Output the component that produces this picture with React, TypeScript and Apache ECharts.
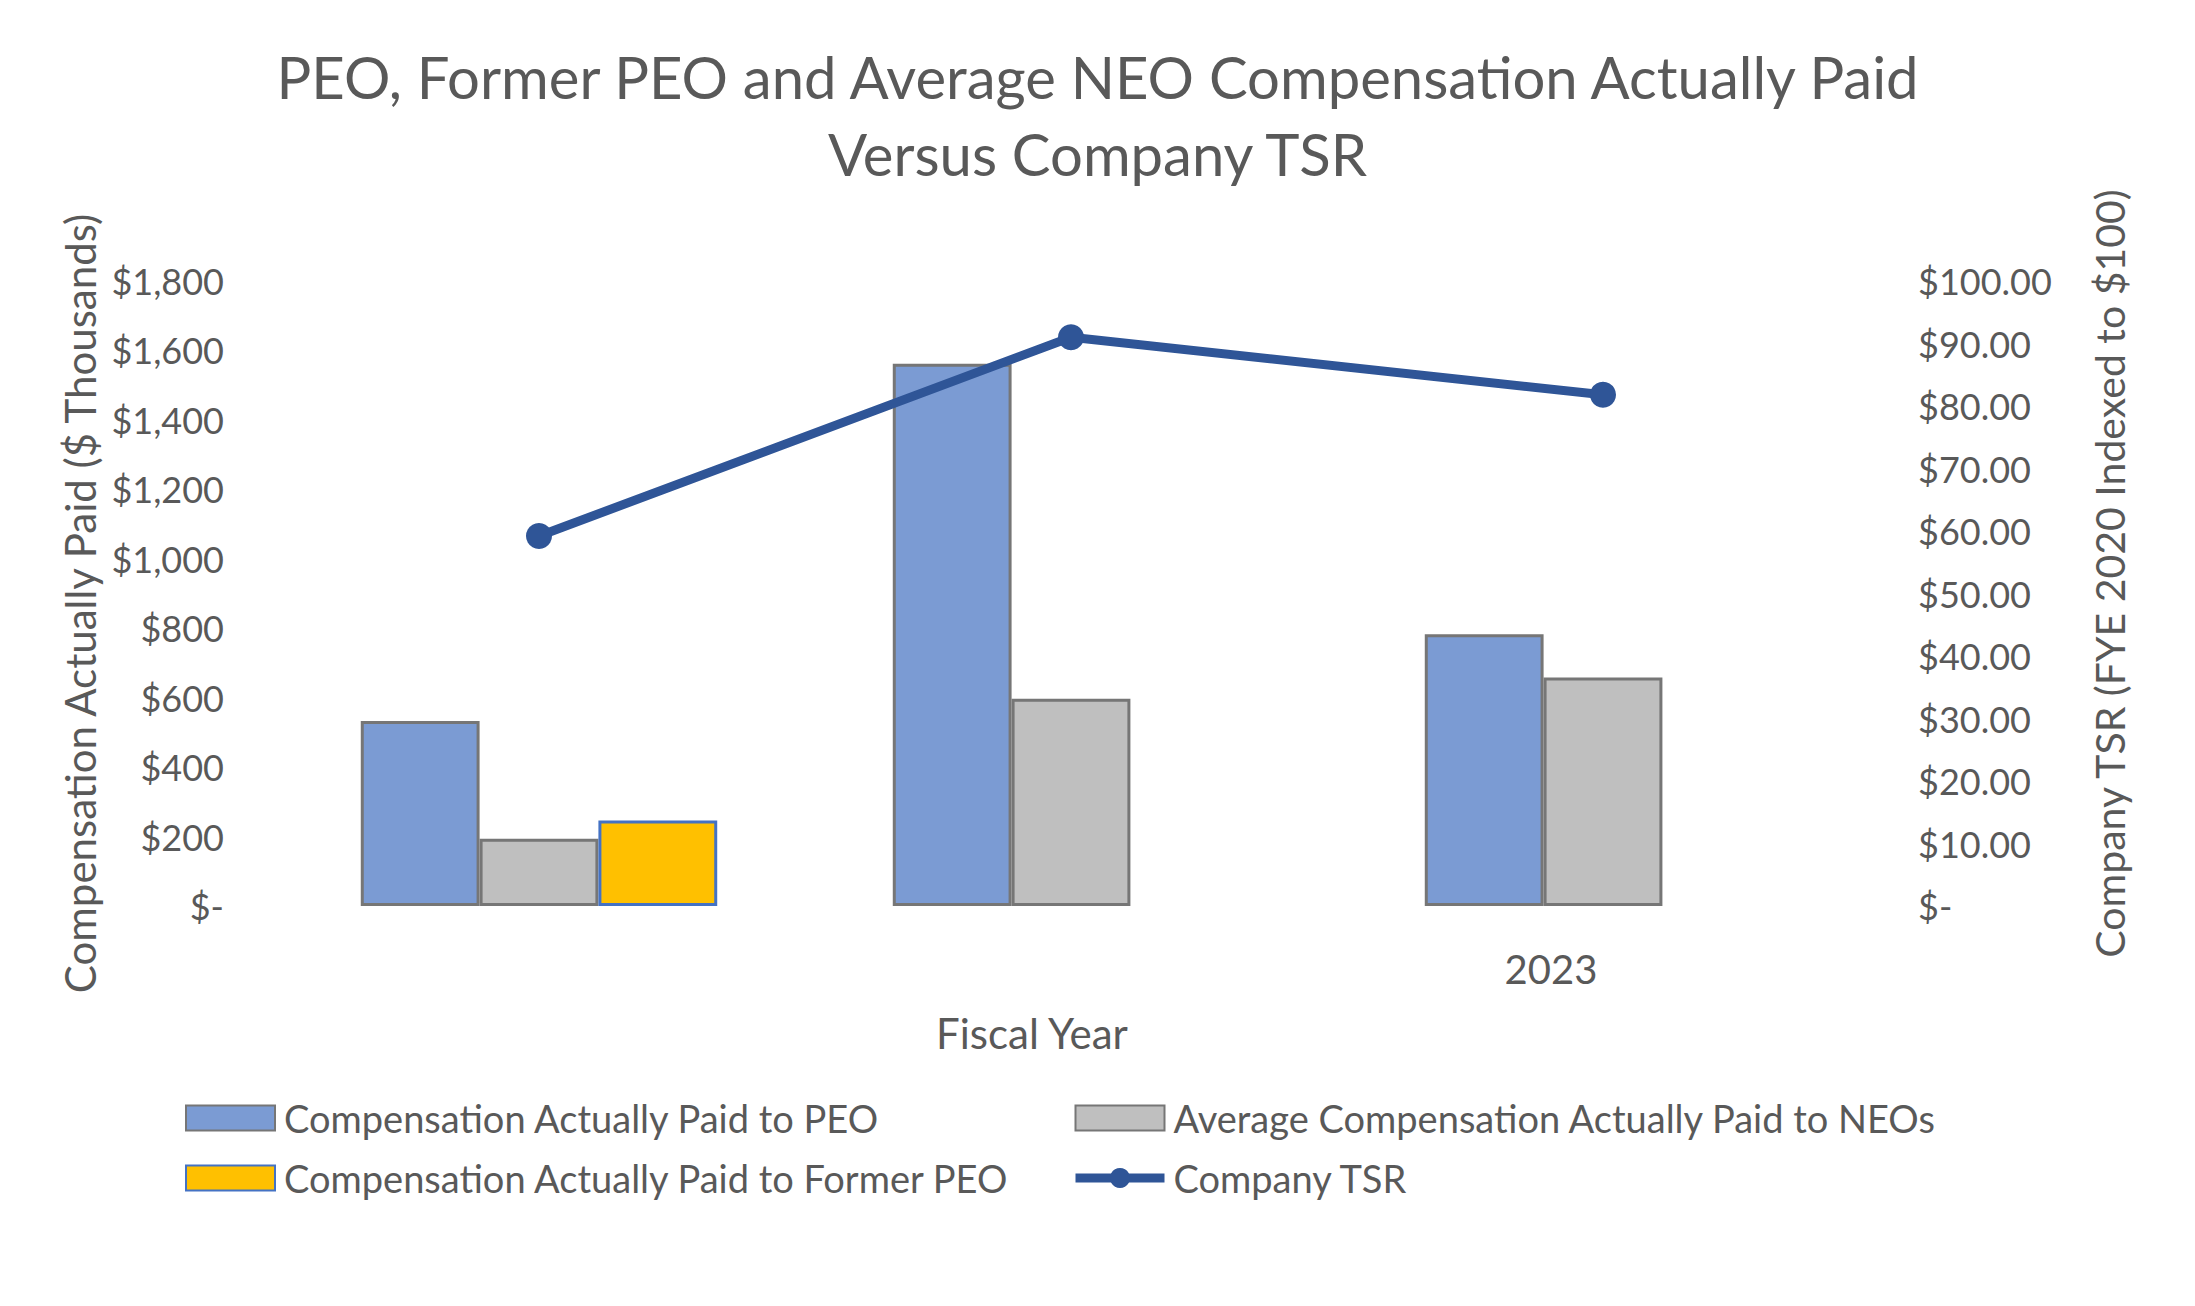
import React, { useEffect, useRef } from "react";
import * as echarts from "echarts";

const categories = ["", "", "2023"];
const peoComp = [533, 1562, 783];
const neoComp = [194, 597, 658];
const formerPeoComp: (number | null)[] = [246, null, null];
const tsr = [59.2, 91.0, 81.8];

const seriesNames = [
  "Compensation Actually Paid to PEO",
  "Average Compensation Actually Paid to NEOs",
  "Compensation Actually Paid to Former PEO",
  "Company TSR",
];

const FONT = "Lato";
const TEXT = "#595959";
const TSR_COLOR = "#2F5597";

export default function App() {
  const ref = useRef<HTMLDivElement>(null);
  useEffect(() => {
    document.body.style.margin = "0";
    const chart = echarts.init(ref.current!, null, { renderer: "svg" });
    chart.setOption({
      animation: false,
      backgroundColor: "#ffffff",
      textStyle: { fontFamily: FONT, color: TEXT },
      title: {
        text: "PEO, Former PEO and Average NEO Compensation Actually Paid\nVersus Company TSR",
        left: "center",
        top: 38,
        padding: 0,
        textStyle: {
          fontFamily: FONT,
          fontSize: 58,
          fontWeight: "normal",
          color: TEXT,
          lineHeight: 77,
        },
      },
      grid: { left: 273, top: 281, width: 1596, height: 625, containLabel: false },
      legend: [
        {
          orient: "vertical",
          left: 185,
          top: 1099,
          padding: 0,
          itemWidth: 89,
          itemHeight: 25,
          itemGap: 22,
          data: [
            { name: seriesNames[0], icon: "rect" },
            { name: seriesNames[2], icon: "rect" },
          ],
          textStyle: { fontFamily: FONT, fontSize: 38, color: TEXT, padding: [0, 0, 0, 4] },
        },
        {
          orient: "vertical",
          left: 1071,
          top: 1099,
          padding: 0,
          itemWidth: 89,
          itemHeight: 25,
          itemGap: 22,
          data: [
            { name: seriesNames[1], icon: "rect" },
            { name: seriesNames[3], lineStyle: { width: 9, color: TSR_COLOR } },
          ],
          textStyle: { fontFamily: FONT, fontSize: 38, color: TEXT, padding: [0, 0, 0, 4] },
        },
      ],
      xAxis: {
        type: "category",
        data: categories,
        axisLine: { show: false },
        axisTick: { show: false },
        axisLabel: {
          fontFamily: FONT,
          fontSize: 40,
          color: TEXT,
          margin: 43,
          padding: [0, 104, 0, 0],
        },
        name: "Fiscal Year",
        nameLocation: "middle",
        nameGap: 106,
        nameTextStyle: { fontFamily: FONT, fontSize: 42, color: TEXT, padding: [0, 78, 0, 0] },
      },
      yAxis: [
        {
          type: "value",
          min: 0,
          max: 1800,
          interval: 200,
          splitLine: { show: false },
          axisLine: { show: false },
          axisTick: { show: false },
          axisLabel: {
            fontFamily: FONT,
            fontSize: 36,
            color: TEXT,
            margin: 49,
            formatter: (v: number) => (v === 0 ? "$-" : "$" + v.toLocaleString("en-US")),
          },
          name: "Compensation Actually Paid ($ Thousands)",
          nameLocation: "middle",
          nameGap: 166,
          nameTextStyle: { fontFamily: FONT, fontSize: 42, color: TEXT, padding: [0, 20, 0, 0] },
        },
        {
          type: "value",
          min: 0,
          max: 100,
          interval: 10,
          splitLine: { show: false },
          axisLine: { show: false },
          axisTick: { show: false },
          axisLabel: {
            fontFamily: FONT,
            fontSize: 36,
            color: TEXT,
            margin: 49,
            formatter: (v: number) => (v === 0 ? "$-" : "$" + v.toFixed(2)),
          },
          name: "Company TSR (FYE 2020 Indexed to $100)",
          nameLocation: "middle",
          nameGap: 220,
          nameTextStyle: { fontFamily: FONT, fontSize: 41, color: TEXT, padding: [0, 0, 0, 40] },
        },
      ],
      series: [
        {
          name: seriesNames[0],
          type: "bar",
          data: peoComp,
          barGap: "0%",
          barCategoryGap: "33%",
          itemStyle: { color: "#7B9BD3", borderColor: "#767676", borderWidth: 3 },
        },
        {
          name: seriesNames[1],
          type: "bar",
          data: neoComp,
          barGap: "0%",
          barCategoryGap: "33%",
          itemStyle: { color: "#BFBFBF", borderColor: "#767676", borderWidth: 3 },
        },
        {
          name: seriesNames[2],
          type: "bar",
          data: formerPeoComp,
          barGap: "0%",
          barCategoryGap: "33%",
          itemStyle: { color: "#FFC000", borderColor: "#4472C4", borderWidth: 3 },
        },
        {
          name: seriesNames[3],
          type: "line",
          yAxisIndex: 1,
          data: tsr,
          symbol: "circle",
          symbolSize: 26,
          lineStyle: { color: TSR_COLOR, width: 9 },
          itemStyle: { color: TSR_COLOR },
        },
      ],
    });
    return () => chart.dispose();
  }, []);
  return (
    <div
      ref={ref}
      style={{ position: "fixed", left: 0, top: 0, width: 2195, height: 1306 }}
    />
  );
}
